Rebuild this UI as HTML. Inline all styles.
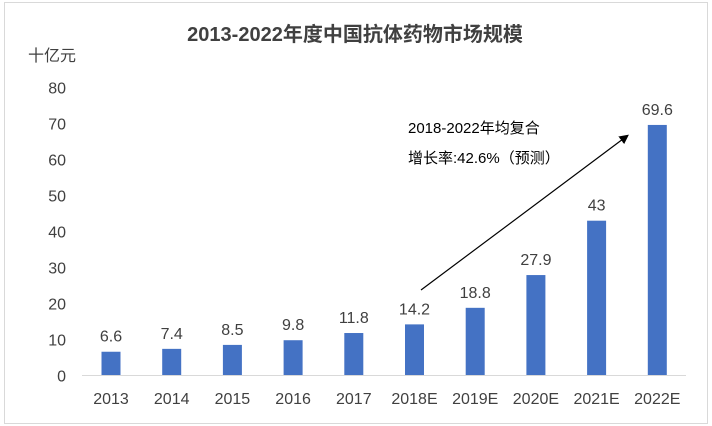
<!DOCTYPE html>
<html><head><meta charset="utf-8"><style>
body{margin:0;background:#fff;font-family:"Liberation Sans","Noto Sans CJK SC",sans-serif;}
#wrap{position:relative;width:712px;height:426px;overflow:hidden;}
</style></head><body>
<div id="wrap">
<svg id="chart" width="712" height="426">
<rect x="4.5" y="2.5" width="703" height="421" fill="#fff" stroke="#d9d9d9"/>
<text x="355" y="41" text-anchor="middle" font-size="20" font-weight="bold" fill="#404040">2013-2022年度中国抗体药物市场规模</text>
<text x="28" y="61" font-size="16" fill="#404040">十亿元</text>
<g id="yticks"></g><g id="bars"></g><g id="xlabels"></g>
<line x1="82" y1="375.5" x2="686" y2="375.5" stroke="#d9d9d9"/>
<defs><marker id="ah" markerWidth="8" markerHeight="8" refX="6" refY="4" orient="auto"><path d="M0,0 L8,4 L0,8 z" fill="#000"/></marker></defs>
<line x1="421" y1="290" x2="627" y2="136" stroke="#000" stroke-width="1.2" marker-end="url(#ah)"/>
<text x="408" y="133" font-size="15" fill="#000">2018-2022年均复合</text>
<text x="408" y="163" font-size="15" fill="#000">增长率:42.6%（预测）</text>
</svg></div>
<script>
const categories=["2013","2014","2015","2016","2017","2018E","2019E","2020E","2021E","2022E"];
const values=[6.6,7.4,8.5,9.8,11.8,14.2,18.8,27.9,43,69.6];
const valueLabels=["6.6","7.4","8.5","9.8","11.8","14.2","18.8","27.9","43","69.6"];
const yTicks=[0,10,20,30,40,50,60,70,80];
const NS="http://www.w3.org/2000/svg";
const y=v=>375.5-v*3.6;
const x=i=>111+i*60.7;
function mk(tag,attrs,parent,text){const e=document.createElementNS(NS,tag);for(const k in attrs)e.setAttribute(k,attrs[k]);if(text!==undefined)e.textContent=text;document.getElementById(parent).appendChild(e);return e;}
yTicks.forEach(t=>{
 const e=mk("text",{x:66,y:y(t)+6,"text-anchor":"end","font-size":16,fill:"#404040"},"yticks",String(t));
 
 
});
categories.forEach((c,i)=>{
 const r=mk("rect",{x:x(i)-9.5,y:y(values[i]),width:19,height:values[i]*3.6,fill:"#4472c4"},"bars");
 
 
 const l=mk("text",{x:x(i),y:y(values[i])-10,"text-anchor":"middle","font-size":16,fill:"#404040"},"bars",valueLabels[i]);
 
 
 const xl=mk("text",{x:x(i),y:404,"text-anchor":"middle","font-size":16,fill:"#404040"},"xlabels",c);
 
 
});
</script>
</body></html>
